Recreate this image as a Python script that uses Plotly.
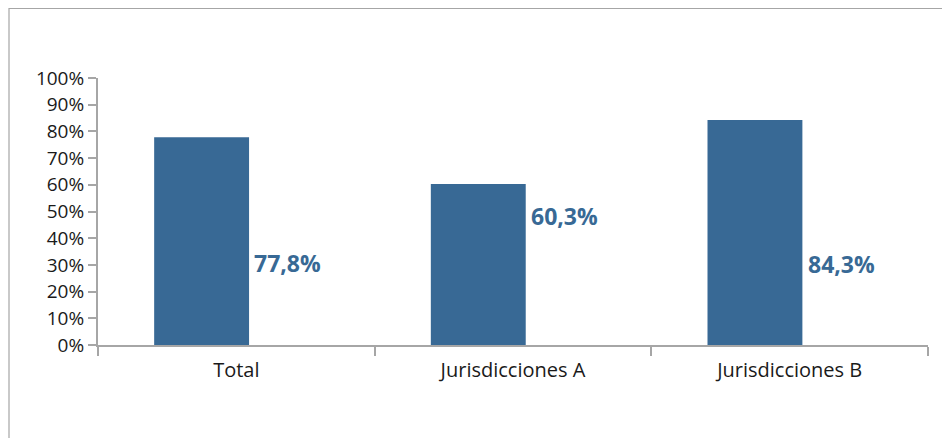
import plotly.graph_objects as go

categories = ["Total", "Jurisdicciones A", "Jurisdicciones B"]
values = [0.778, 0.603, 0.843]
value_labels = ["77,8%", "60,3%", "84,3%"]
label_y = [0.307, 0.483, 0.303]
tick_vals = [i / 10 for i in range(11)]
tick_text = [f"{i * 10}%" for i in range(11)]

BAR = "#386995"
AXIS = "#a6a6a6"
FONT = "Open Sans"

# page has an 8px body margin
fig = go.Figure()
fig.add_trace(go.Bar(
    x=categories, y=values, marker_color=BAR, marker_line_width=0,
    width=0.343, offset=-0.297, hoverinfo="skip",
))

for c, v, t in zip(categories, label_y, value_labels):
    fig.add_annotation(x=c, y=v, text=f"<b>{t}</b>", showarrow=False,
                       xanchor="left", yanchor="middle", xshift=16,
                       font=dict(family=FONT, size=23, color=BAR))

fig.add_shape(type="rect", xref="paper", yref="paper",
              x0=(9 - 98) / 830, x1=1.2, y0=-0.6, y1=1 + 69.5 / 267,
              line=dict(color=AXIS, width=1.2), fillcolor="rgba(0,0,0,0)", layer="below")

fig.update_layout(
    width=942, height=430,
    margin=dict(l=90, r=22, t=70, b=93),
    paper_bgcolor="white", plot_bgcolor="white",
    showlegend=False,
    font=dict(family=FONT, size=18, color="#1a1a1a"),
    xaxis=dict(
        range=[-0.5, 2.5], showline=True, linecolor=AXIS, linewidth=2,
        ticks="outside", tickson="boundaries", ticklen=9, tickcolor=AXIS, tickwidth=2,
        ticklabelstandoff=6,
        tickfont=dict(size=20, family=FONT, color="#1a1a1a"), showgrid=False, zeroline=False,
    ),
    yaxis=dict(
        range=[0, 1], tickvals=tick_vals, ticktext=tick_text,
        showline=True, linecolor=AXIS, linewidth=2,
        ticks="outside", ticklen=8, tickcolor=AXIS, tickwidth=2,
        tickfont=dict(size=19, family=FONT, color="#1a1a1a"),
        showgrid=False, zeroline=False,
    ),
)

fig.write_html("out.html")
